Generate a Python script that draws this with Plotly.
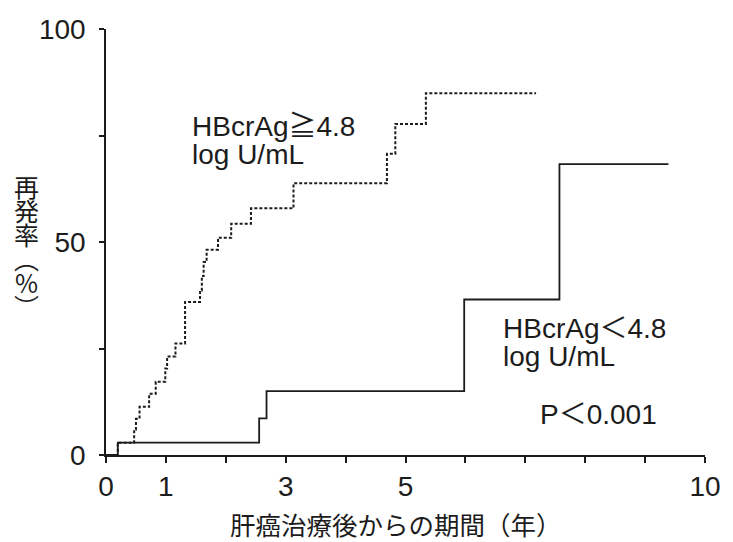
import plotly.graph_objects as go

# ---- data (years after HCC treatment, cumulative recurrence %) ----
high_t = [0, 0.197, 0.47, 0.50, 0.56, 0.72, 0.83, 0.99, 1.02, 1.16, 1.32, 1.57, 1.60, 1.63, 1.68,
          1.87, 2.09, 2.42, 3.13, 4.69, 4.83, 5.34, 7.18]
high_y = [0, 2.9, 6.0, 8.5, 11.3, 14.4, 17.2, 20.3, 23.1, 26.2, 35.9, 38.6, 42.0, 45.3, 48.2,
          51.0, 54.3, 57.9, 63.8, 70.7, 77.7, 84.9, 84.9]

low_t = [0, 0.197, 2.557, 2.68, 5.98, 7.57, 9.39]
low_y = [0, 2.9, 8.6, 15.0, 36.5, 68.3, 68.3]

x_tickvals = [0, 1, 2, 3, 4, 5, 6, 7, 8, 9, 10]
x_ticktext = ["0", "1", "", "3", "", "5", "", "", "", "", "10"]
y_tickvals = [0, 25, 50, 75, 100]
y_ticktext = ["0", "", "50", "", "100"]

high_label = ["HBcrAg≧4.8", "log U/mL"]
low_label = ["HBcrAg＜4.8", "log U/mL"]
p_label = "P＜0.001"
x_title = "肝癌治療後からの期間（年）"
y_title_chars = ["再", "発", "率", "︵", "%", "︶"]

INK = "#1c1c1c"
LATIN = "Liberation Sans, Noto Sans CJK JP, sans-serif"
CJK = "Noto Sans CJK JP, sans-serif"

W, H = 733, 542
# plot area in page pixels
PL, PR, PT, PB = 105.7, 715.7, 29, 455
L, R, T, B = PL, W - PR, PT, H - PB

fig = go.Figure()
fig.add_trace(go.Scatter(x=high_t, y=high_y, mode="lines", line_shape="hv",
                         line=dict(color=INK, width=2, dash="3px,2px"), showlegend=False,
                         hoverinfo="skip"))
fig.add_trace(go.Scatter(x=low_t, y=low_y, mode="lines", line_shape="hv",
                         line=dict(color=INK, width=1.8), showlegend=False, hoverinfo="skip"))


def py_to_paper(py):
    return (PB - py) / (PB - PT)


def px_to_paper(px):
    return (px - PL) / (PR - PL)


def stacked(lines, px):
    # tight line spacing: base font sets spacing (1.3em), spans set glyph size
    return "<br>".join(f'<span style="font-size:{px}px">{s}</span>' for s in lines)


annos = []
# two-line labels inside plot (baseline spacing ~28px, glyphs 28px)
annos.append(dict(x=1.40, y=73.9, xref="x", yref="y", text=stacked(high_label, 28),
                  showarrow=False, xanchor="left", yanchor="middle", align="left",
                  font=dict(family=LATIN, size=21.3, color=INK)))
annos.append(dict(x=6.60, y=26.4, xref="x", yref="y", text=stacked(low_label, 28),
                  showarrow=False, xanchor="left", yanchor="middle", align="left",
                  font=dict(family=LATIN, size=21.3, color=INK)))
annos.append(dict(x=7.21, y=9.4, xref="x", yref="y", text=p_label,
                  showarrow=False, xanchor="left", yanchor="middle",
                  font=dict(family=LATIN, size=28, color=INK)))

# x-axis title
annos.append(dict(x=px_to_paper(401), y=py_to_paper(523), xref="paper", yref="paper",
                  text=x_title, showarrow=False, xanchor="center", yanchor="middle",
                  font=dict(family=CJK, size=25.5, color=INK)))

# vertical y-axis title (upright characters, vertical-form parentheses)
annos.append(dict(x=px_to_paper(25), y=py_to_paper(246), xref="paper", yref="paper",
                  text=stacked(y_title_chars, 25), showarrow=False,
                  xanchor="center", yanchor="middle", align="center",
                  font=dict(family=CJK, size=18.5, color=INK)))

fig.update_layout(
    width=W, height=H,
    margin=dict(l=L, r=R, t=T, b=B, pad=0),
    paper_bgcolor="white", plot_bgcolor="white",
    annotations=annos,
    xaxis=dict(range=[0, 10], tickmode="array", tickvals=x_tickvals, ticktext=x_ticktext,
               ticks="outside", ticklen=6, tickwidth=1.5, tickcolor=INK,
               showline=True, linecolor=INK, linewidth=1.5, showgrid=False, zeroline=False,
               tickfont=dict(family=LATIN, size=28, color=INK), fixedrange=True),
    yaxis=dict(range=[0, 100], tickmode="array", tickvals=y_tickvals, ticktext=y_ticktext,
               ticks="outside", ticklen=5, tickwidth=1.5, tickcolor=INK,
               showline=True, linecolor=INK, linewidth=1.5, showgrid=False, zeroline=False,
               tickfont=dict(family=LATIN, size=28, color=INK), ticklabelstandoff=8,
               fixedrange=True),
)

# remove the default page margin so the 733x542 figure fills the window exactly
fig.write_html("out.html", config={"displayModeBar": False},
               post_script="document.body.style.margin='0';document.body.style.overflow='hidden';")
